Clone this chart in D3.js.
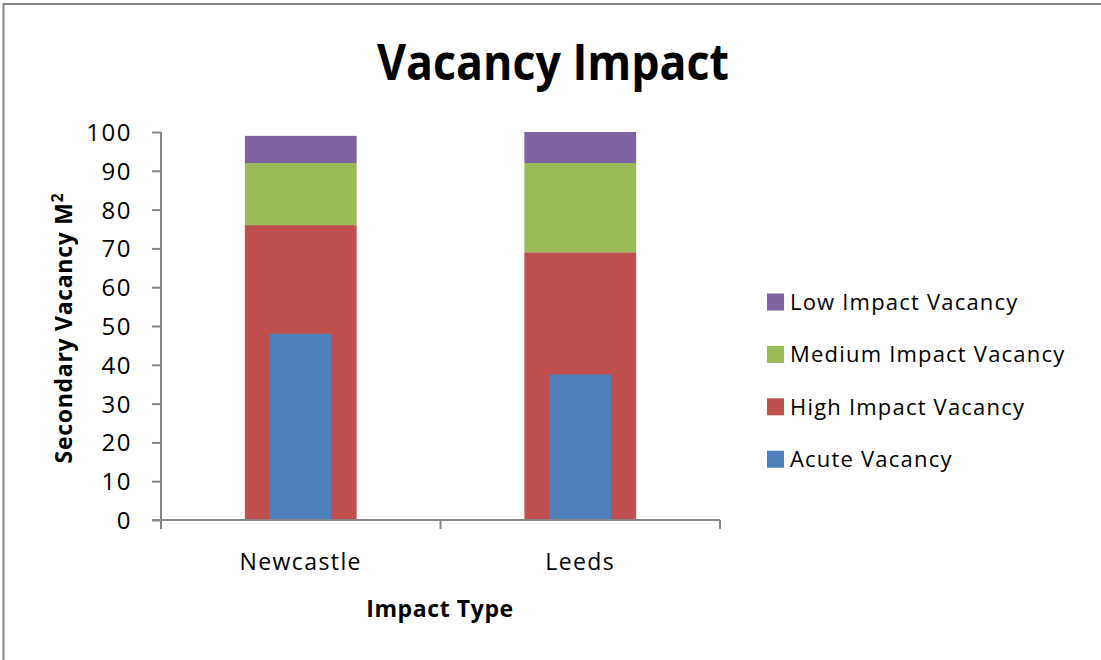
<!DOCTYPE html>
<html>
<head>
<meta charset="utf-8">
<script src="https://cdn.jsdelivr.net/npm/d3@7"></script>
<style>
  body { margin: 0; background: #fff; }
  text { font-family: "Open Sans", sans-serif; fill: #000; }
</style>
</head>
<body>
<div id="main"></div>
<script>
/*********************************************************
 * Data
 *********************************************************/

const cities = ['Newcastle', 'Leeds'];
const highImpact = [76, 69];
const mediumImpact = [16, 23];
const lowImpact = [7, 8];
const acuteVacancy = [48, 37.5];
const yTicks = [0, 10, 20, 30, 40, 50, 60, 70, 80, 90, 100];

const legendNames = ['Low Impact Vacancy', 'Medium Impact Vacancy', 'High Impact Vacancy', 'Acute Vacancy'];
const colors = {
  high: '#c0504d',
  medium: '#9bbb59',
  low: '#8064a2',
  acute: '#4f81bd'
};
const axisColor = '#868686';

/*********************************************************
 * Layout
 *********************************************************/

const svgWidth = 1101;
const svgHeight = 660;
const plot = { l: 161, r: 720, t: 132, b: 520 };

const svg = d3
  .select('#main')
  .append('svg')
  .attr('width', svgWidth)
  .attr('height', svgHeight);

// chart frame (right and bottom edges sit outside the picture)
svg.append('rect')
  .attr('x', 3.5).attr('y', 4)
  .attr('width', svgWidth + 10).attr('height', svgHeight + 10)
  .attr('fill', '#fff')
  .attr('stroke', axisColor)
  .attr('stroke-width', 2);

const x = d3.scaleBand().domain(cities).range([plot.l, plot.r]).padding(0);
const y = d3.scaleLinear().domain([0, 100]).range([plot.b, plot.t]);

// stacked series
const rows = cities.map((c, i) => ({
  city: c,
  high: highImpact[i],
  medium: mediumImpact[i],
  low: lowImpact[i]
}));
const stack = d3.stack().keys(['high', 'medium', 'low']);
const series = stack(rows);

const barW = x.bandwidth() * 0.4;
const acuteW = x.bandwidth() * 0.22;

series.forEach(s => {
  svg.append('g')
    .selectAll('rect')
    .data(s)
    .enter()
    .append('rect')
    .attr('x', d => x(d.data.city) + (x.bandwidth() - barW) / 2)
    .attr('y', d => y(d[1]))
    .attr('width', barW)
    .attr('height', d => y(d[0]) - y(d[1]))
    .attr('fill', colors[s.key]);
});

// acute bars drawn narrower, on top of the stack
svg.append('g')
  .selectAll('rect')
  .data(cities)
  .enter()
  .append('rect')
  .attr('x', d => x(d) + (x.bandwidth() - acuteW) / 2)
  .attr('y', (d, i) => y(acuteVacancy[i]))
  .attr('width', acuteW)
  .attr('height', (d, i) => y(0) - y(acuteVacancy[i]))
  .attr('fill', colors.acute);

/*********************************************************
 * Axes
 *********************************************************/

const yAxis = svg.append('g')
  .attr('transform', `translate(${plot.l},0)`)
  .call(d3.axisLeft(y).tickValues(yTicks).tickSize(9).tickPadding(20));
yAxis.selectAll('text')
  .style('font-size', '24px')
  .style('letter-spacing', '1.5px')
  .attr('dy', '0.35em');

const xAxis = svg.append('g')
  .attr('transform', `translate(0,${plot.b})`)
  .call(d3.axisBottom(x).tickSize(0).tickPadding(42));
xAxis.selectAll('text')
  .style('font-size', '23px')
  .style('letter-spacing', '1.4px')
  .attr('dy', '0.35em');

// category boundary ticks
svg.append('g')
  .selectAll('line')
  .data([plot.l, plot.l + x.bandwidth(), plot.r])
  .enter()
  .append('line')
  .attr('x1', d => d).attr('x2', d => d)
  .attr('y1', plot.b).attr('y2', plot.b + 9)
  .attr('stroke', axisColor).attr('stroke-width', 2);

svg.selectAll('.domain').remove();
yAxis.selectAll('line').attr('stroke', axisColor).attr('stroke-width', 2);
svg.append('line')
  .attr('x1', plot.l).attr('x2', plot.l)
  .attr('y1', plot.t).attr('y2', plot.b + 9)
  .attr('stroke', axisColor).attr('stroke-width', 2);
svg.append('line')
  .attr('x1', plot.l - 9).attr('x2', plot.r)
  .attr('y1', plot.b).attr('y2', plot.b)
  .attr('stroke', axisColor).attr('stroke-width', 2);

/*********************************************************
 * Titles
 *********************************************************/

svg.append('text')
  .attr('x', 553).attr('y', 80)
  .attr('text-anchor', 'middle')
  .attr('textLength', 352)
  .attr('lengthAdjust', 'spacingAndGlyphs')
  .style('font-size', '50px')
  .style('font-weight', 'bold')
  .text('Vacancy Impact');

svg.append('text')
  .attr('x', 440).attr('y', 617)
  .attr('text-anchor', 'middle')
  .style('font-size', '23px')
  .style('font-weight', 'bold')
  .style('letter-spacing', '0.6px')
  .text('Impact Type');

const yTitle = svg.append('text')
  .attr('transform', 'translate(72,328) rotate(-90)')
  .attr('text-anchor', 'middle')
  .style('font-size', '23px')
  .style('font-weight', 'bold')
  .style('letter-spacing', '0.7px');
yTitle.append('tspan').text('Secondary Vacancy  M');
yTitle.append('tspan').attr('dy', -9).style('font-size', '16px').text('2');

/*********************************************************
 * Legend
 *********************************************************/

const legendColors = [colors.low, colors.medium, colors.high, colors.acute];
const legend = svg.append('g')
  .selectAll('g')
  .data(legendNames)
  .enter()
  .append('g')
  .attr('transform', (d, i) => `translate(767,${302 + i * 52.4})`);

legend.append('rect')
  .attr('x', 0).attr('y', -8.5)
  .attr('width', 17).attr('height', 17)
  .attr('fill', (d, i) => legendColors[i]);

legend.append('text')
  .attr('x', 23).attr('y', 0)
  .attr('dy', '0.35em')
  .style('font-size', '22px')
  .style('letter-spacing', '1.2px')
  .text(d => d);
</script>
</body>
</html>
